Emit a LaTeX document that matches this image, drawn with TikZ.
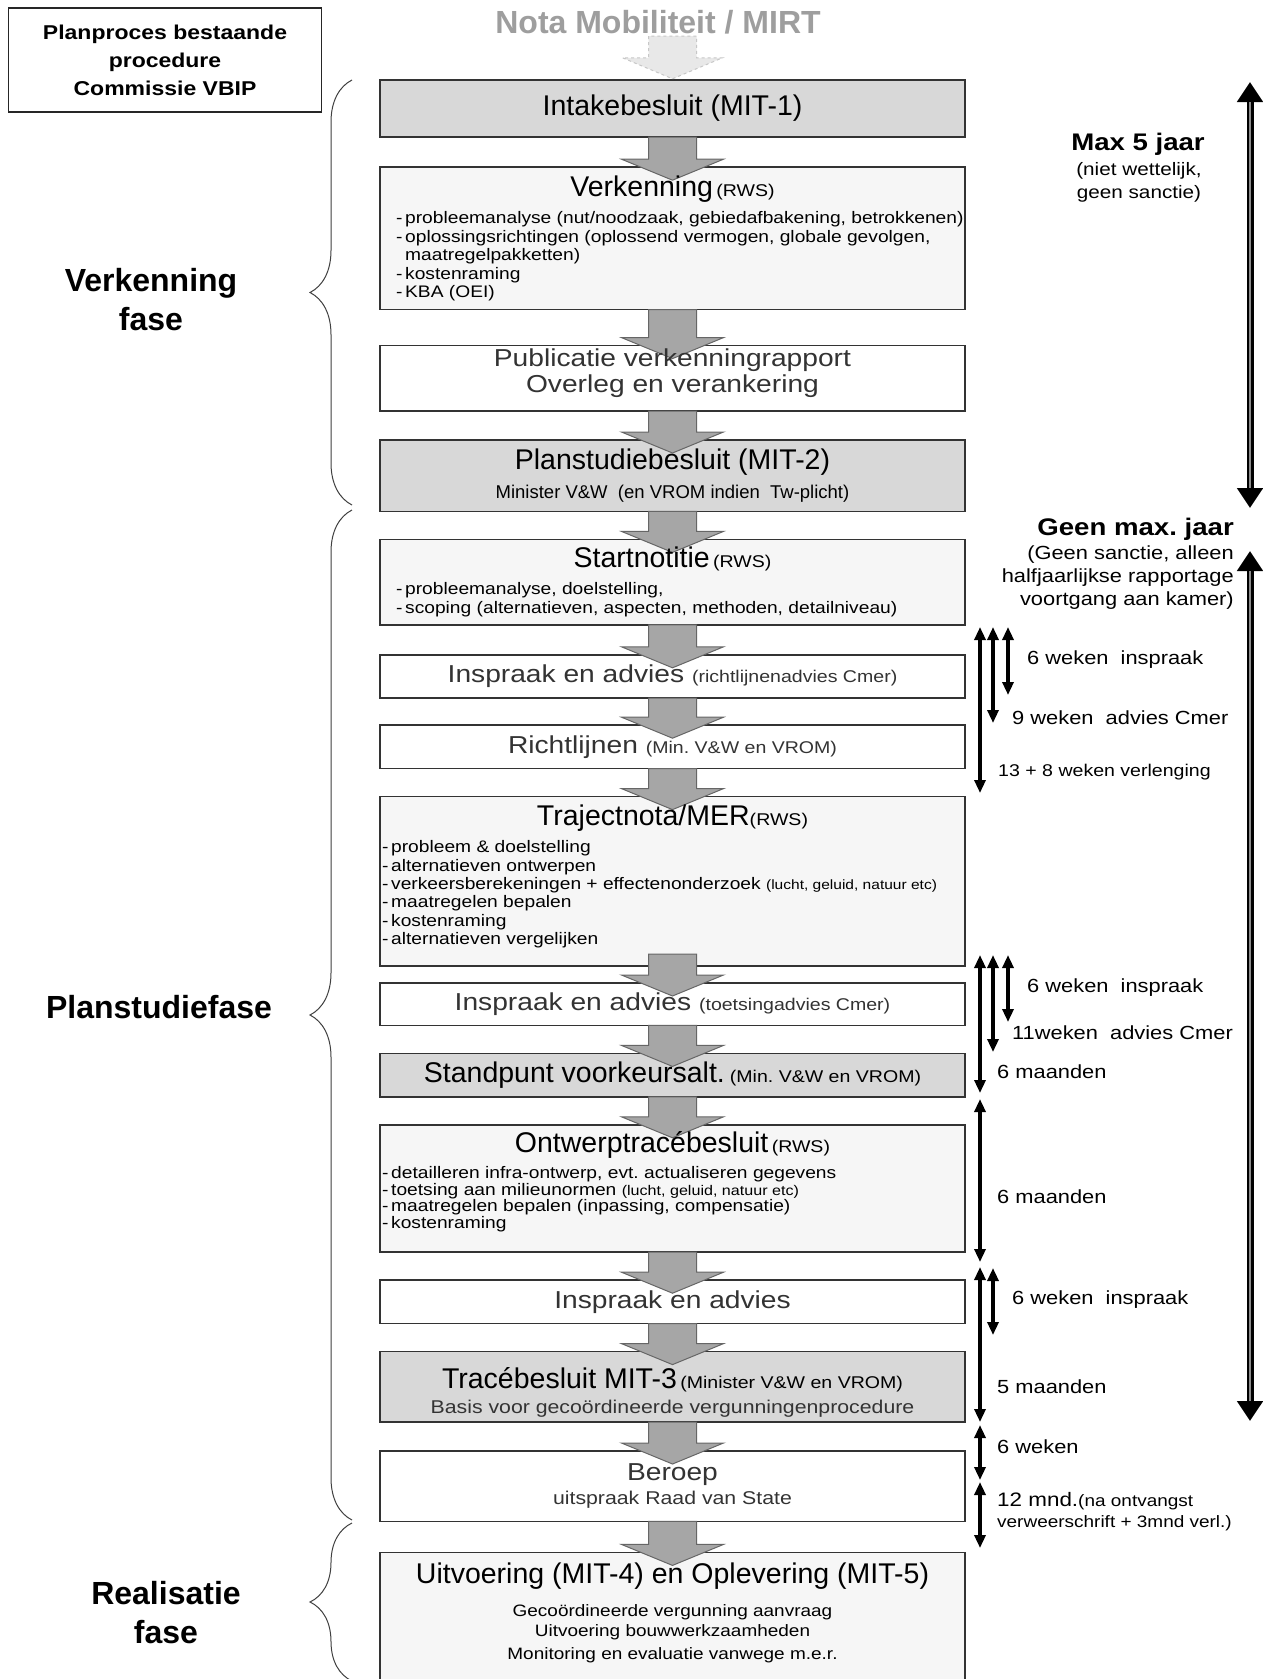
\documentclass[tikz,border=0pt]{standalone}
\usepackage{fontspec}
\setmainfont{Liberation Sans}[FakeStretch=1.15]
\newfontfamily\plainfont{Liberation Sans}
\usepackage{tikz}
\usetikzlibrary{arrows.meta,positioning,calc,decorations.pathreplacing}
\definecolor{boxgray}{RGB}{216,216,216}
\definecolor{boxpale}{RGB}{246,246,246}
\definecolor{flowgray}{RGB}{166,166,166}
\definecolor{notagray}{RGB}{158,158,158}
\newcommand{\fs}[2]{\fontsize{#1}{#2}\selectfont\spaceskip=\fontdimen2\font\xspaceskip=\fontdimen2\font\relax}
\newcommand{\ttl}[1]{{\plainfont\fs{28.5}{30}#1}}
\newcommand{\sml}[1]{{\fs{17}{19}#1}}
\newcommand{\bul}[2][11pt]{\makebox[\hsize][l]{\hspace*{#1}-\,#2}\par}
\newcommand{\cont}[2][11pt]{\makebox[\hsize][l]{\hspace*{#1}\phantom{-\,}#2}\par}
\newcommand{\hgt}[1]{\rule{0pt}{#1}}
\newcommand{\dep}[1]{\rule[-#1]{0pt}{#1}}
\pgfdeclarelayer{frames}
\pgfdeclarelayer{flow}
\pgfsetlayers{frames,flow,main}

\begin{document}
\begin{tikzpicture}[x=1pt, y=-1pt,
    stage/.style={minimum width=585pt, text width=575pt, inner xsep=5pt, inner ysep=0pt, align=center,
      execute at begin node={\parindent=0pt\parskip=0pt\lineskiplimit=-20pt}},
    light/.style={text=black!80},
    frame/.style={draw=black!80, line width=1.6pt},
    flowarr/.style={fill=flowgray, draw=black!60, line width=1pt},
    fadearr/.style={fill=black!9, draw=black!22, dashed, line width=1pt},
    phase/.style={decorate, decoration={brace, amplitude=42pt}, draw=black!75, line width=1pt},
    phaselbl/.style={font={\plainfont\bfseries\fs{32}{39}}, align=center, inner sep=0pt},
    span/.style={line width=3.2pt, {Triangle[length=13pt,width=11pt]}-{Triangle[length=13pt,width=11pt]}},
    longspan/.style={line width=7pt, {Triangle[length=20pt,width=25pt]}-{Triangle[length=20pt,width=25pt]}},
    spanlbl/.style={anchor=west, inner sep=0pt, font=\fs{19}{23}, align=left}
  ]
  \useasboundingbox (0,0) rectangle (1263,1679);

  % header
  \node[draw=black!85, line width=1.2pt, minimum width=313pt, minimum height=104pt, align=center,
    font={\bfseries\fs{20}{28}}] (vbip) at (165,60) {Planproces bestaande\\procedure\\Commissie VBIP};
  \node[font={\plainfont\bfseries\fs{32}{36}}, text=notagray, inner sep=0pt] (nota) at (658,22) {Nota Mobiliteit / MIRT};

  % process column
  \node[stage, minimum height=57pt] (intake) at (672.5,108.5) {\ttl{Intakebesluit (MIT-1)}};
  \node[stage, minimum height=142pt, below=30pt of intake] (verk) {%
    \ttl{Verkenning} \sml{(RWS)}\par
    \fs{16.7}{27}\bul{probleemanalyse (nut/noodzaak, gebiedafbakening, betrokkenen)}
    \fs{16.7}{18.5}\bul{oplossingsrichtingen (oplossend vermogen, globale gevolgen,}
    \cont{maatregelpakketten)}
    \bul{kostenraming}
    \bul{KBA (OEI)}};
  \node[stage, light, minimum height=65pt, below=36pt of verk] (publ) {%
    \fs{24.5}{26}Publicatie verkenningrapport\par
    Overleg en verankering\dep{15pt}\par};
  \node[stage, minimum height=71pt, below=29pt of publ] (plan) {%
    \ttl{Planstudiebesluit (MIT-2)}\par
    \plainfont\fs{18.5}{29.5}Minister V\&W\ \ (en VROM indien\ \ Tw-plicht)\par};
  \node[stage, minimum height=85pt, below=28pt of plan] (start) {%
    \ttl{Startnotitie} \sml{(RWS)}\par
    \fs{16.7}{27}\bul{probleemanalyse, doelstelling,}
    \fs{16.7}{19}\bul{scoping (alternatieven, aspecten, methoden, detailniveau)}};
  \node[stage, light, minimum height=43pt, below=30pt of start] (insp1) {%
    \fs{24.5}{26}Inspraak en advies \sml{(richtlijnenadvies Cmer)}};
  \node[stage, light, minimum height=43pt, below=27pt of insp1] (richt) {%
    \fs{24.5}{26}Richtlijnen \sml{(Min. V\&W en VROM)}};
  \node[stage, minimum height=169pt, below=28pt of richt] (traj) {%
    \ttl{Trajectnota/MER}\sml{(RWS)}\par
    \fs{16.7}{27}\bul[-3pt]{probleem \& doelstelling}
    \fs{16.7}{18.4}\bul[-3pt]{alternatieven ontwerpen}
    \bul[-3pt]{verkeersberekeningen + effectenonderzoek {\fs{13.5}{15}(lucht, geluid, natuur etc)}}
    \bul[-3pt]{maatregelen bepalen}
    \bul[-3pt]{kostenraming}
    \bul[-3pt]{alternatieven vergelijken\dep{13pt}}};
  \node[stage, light, minimum height=42pt, below=17pt of traj] (insp2) {%
    \fs{24.5}{26}Inspraak en advies \sml{(toetsingadvies Cmer)}};
  \node[stage, minimum height=43pt, below=28pt of insp2] (stand) {%
    \ttl{Standpunt voorkeursalt.} \sml{(Min. V\&W en VROM)}};
  \node[stage, minimum height=127pt, below=28pt of stand] (ontw) {%
    \ttl{Ontwerptracébesluit} \sml{(RWS)}\par
    \fs{16.7}{26}\bul[-3pt]{detailleren infra-ontwerp, evt. actualiseren gegevens}
    \fs{16.7}{16.5}\bul[-3pt]{toetsing aan milieunormen {\fs{14}{15}(lucht, geluid, natuur etc)}}
    \bul[-3pt]{maatregelen bepalen (inpassing, compensatie)}
    \bul[-3pt]{kostenraming\dep{17pt}}};
  \node[stage, light, minimum height=43pt, below=28pt of ontw] (insp3) {%
    \fs{24.5}{26}Inspraak en advies};
  \node[stage, minimum height=70pt, below=28pt of insp3] (trace) {%
    \hgt{33pt}\ttl{Tracébesluit MIT-3} \sml{(Minister V\&W en VROM)}\par
    \color{black!80}\fs{18.5}{25}Basis voor gecoördineerde vergunningenprocedure\par};
  \node[stage, light, minimum height=70pt, below=29pt of trace] (beroep) {%
    \fs{24.5}{26}Beroep\par
    \fs{18.5}{23.5}uitspraak Raad van State\par};
  \node[stage, minimum height=135pt, below=31pt of beroep] (uitv) {%
    \ttl{Uitvoering (MIT-4) en Oplevering (MIT-5)}\par
    \fs{16.5}{33}Gecoördineerde vergunning aanvraag\par
    \fs{16.5}{20}Uitvoering bouwwerkzaamheden\par
    \fs{16.5}{23}Monitoring en evaluatie vanwege m.e.r.\dep{18pt}\par};

  % box frames below the flow arrows
  \begin{pgfonlayer}{frames}
    \fill[white] (0,0) rectangle (1263,1679);
    \foreach \n/\col in {intake/boxgray, verk/boxpale, publ/white, plan/boxgray, start/boxpale,
        insp1/white, richt/white, traj/boxpale, insp2/white, stand/boxgray, ontw/boxpale,
        insp3/white, trace/boxgray, beroep/white, uitv/boxpale}
      \draw[frame, fill=\col] (\n.north west) rectangle (\n.south east);
  \end{pgfonlayer}

  % flow arrows
  \begin{pgfonlayer}{flow}
    \draw[fadearr] ($(nota.south -| intake.north)+(-24,2)$) -- ($(intake.north)+(-24,-22)$)
      -- ($(intake.north)+(-50,-22)$) -- ($(intake.north)+(0,-1)$) -- ($(intake.north)+(50,-22)$)
      -- ($(intake.north)+(24,-22)$) -- ($(nota.south -| intake.north)+(24,2)$) -- cycle;
    \foreach \src/\dst/\off in {intake/verk/0, verk/publ/0, publ/plan/0, plan/start/0, start/insp1/0,
        insp1/richt/0, richt/traj/0, traj/insp2/12, insp2/stand/0, stand/ontw/0, ontw/insp3/0,
        insp3/trace/0, trace/beroep/0, beroep/uitv/0}
      \draw[flowarr] ($(\src.south)+(-24,-\off)$) -- ($(\dst.north)+(-24,-8)$) -- ($(\dst.north)+(-51,-8)$)
        -- ($(\dst.north)+(0,13)$) -- ($(\dst.north)+(51,-8)$) -- ($(\dst.north)+(24,-8)$)
        -- ($(\src.south)+(24,-\off)$) -- cycle;
  \end{pgfonlayer}

  % phases
  \draw[phase] (352,505) -- (352,80);
  \draw[phase] (352,1520) -- (352,510);
  \draw[phase] (352,1681) -- (352,1523);
  \node[phaselbl] (verkfase) at (151,299.5) {Verkenning\\fase};
  \node[phaselbl] (planfase) at (159,1007) {Planstudiefase};
  \node[phaselbl] (realfase) at (166,1613) {Realisatie\\fase};

  % overall duration
  \coordinate (ltop1) at (1250,82);
  \coordinate (lbot1) at (1250,508);
  \coordinate (ltop2) at (1250,551);
  \coordinate (lbot2) at (1250,1421);
  \foreach \ta/\tb in {ltop1/lbot1, ltop2/lbot2} {
    \draw[longspan] (\ta) -- (\tb);
    \draw[line width=2.4pt, black!45, shorten <=20pt, shorten >=20pt] (\ta) -- (\tb);
  }
  \node[font={\bfseries\fs{24}{26}}] (max5) at (1138,144) {Max 5 jaar};
  \node[font=\fs{18}{23}, align=center] (maxnote) at (1139,182) {(niet wettelijk,\\geen sanctie)};
  \node[font={\bfseries\fs{24}{26}}, anchor=east, inner sep=0pt] (geenmax) at (1234,529) {Geen max. jaar};
  \node[font=\fs{19}{23}, align=right, anchor=east, inner sep=0pt] (geennote) at (1234,578)
    {(Geen sanctie, alleen\\halfjaarlijkse rapportage\\voortgang aan kamer)};

  % step durations
  \foreach \n/\px/\ya/\yb in {a/980/627/793, b/993/627/723, c/1008/627/695, d/980/955/1093,
      e/993/955/1052, f/1008/955/1022, g/980/1099/1262, h/980/1267/1422, i/993/1268/1335,
      j/980/1425/1480, k/980/1482/1548} {
    \coordinate (\n1) at (\px,\ya);
    \coordinate (\n2) at (\px,\yb);
    \draw[span] (\n1) -- (\n2);
  }
  \node[spanlbl] (l1) at (1027,660) {6 weken\ \ inspraak};
  \node[spanlbl] (l2) at (1012,718) {9 weken\ \ advies Cmer};
  \node[spanlbl, font=\fs{17}{20}] (l3) at (998,772) {13 + 8 weken verlenging};
  \node[spanlbl] (l4) at (1027,988) {6 weken\ \ inspraak};
  \node[spanlbl] (l5) at (1012,1033) {11weken\ \ advies Cmer};
  \node[spanlbl] (l6) at (997,1072) {6 maanden};
  \node[spanlbl] (l7) at (997,1197) {6 maanden};
  \node[spanlbl] (l8) at (1012,1300) {6 weken\ \ inspraak};
  \node[spanlbl] (l9) at (997,1387) {5 maanden};
  \node[spanlbl] (l10) at (997,1447) {6 weken};
  \node[spanlbl, font=\fs{16.5}{21}] (l11) at (997,1512)
    {{\fs{19.5}{21}12 mnd.}(na ontvangst\\verweerschrift + 3mnd verl.)};
\end{tikzpicture}
\end{document}
